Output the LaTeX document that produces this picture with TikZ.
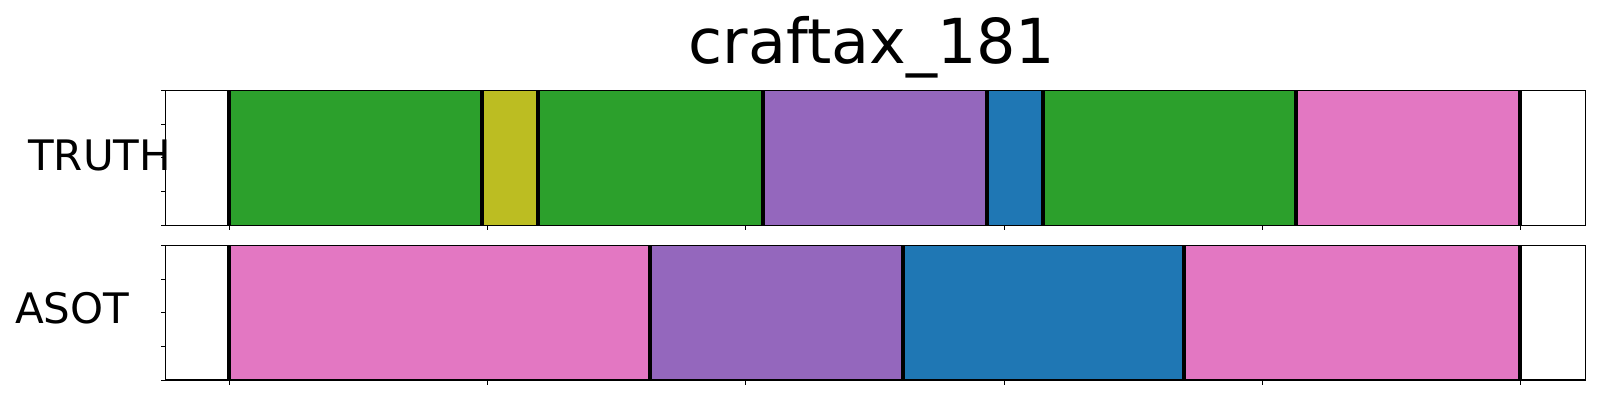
\documentclass[tikz,border=0pt]{standalone}
\usepackage{fontspec}
\setmainfont{DejaVu Sans}
\definecolor{tgreen}{HTML}{2CA02C}
\definecolor{tolive}{HTML}{BCBD22}
\definecolor{tpurple}{HTML}{9467BD}
\definecolor{tblue}{HTML}{1F77B4}
\definecolor{tpink}{HTML}{E377C2}
\tikzset{
  seg/.style={draw=none},
  bound/.style={line width=3.6pt, black},
  spine/.style={line width=1.1pt, black},
  tickmark/.style={line width=0.9pt, black},
  lbl/.style={inner sep=0pt, anchor=base west, font=\fontsize{42}{50}\selectfont},
}
\begin{document}
\begin{tikzpicture}[x=1pt,y=-1pt]
\useasboundingbox[fill=white] (0,0) rectangle (1600,400);
% ---------- top panel (TRUTH) ----------
\def\ta{90.3}\def\tb{225.3}
\fill[tgreen]  (229,\ta) rectangle (482,\tb);
\fill[tolive]  (482,\ta) rectangle (538,\tb);
\fill[tgreen]  (538,\ta) rectangle (763,\tb);
\fill[tpurple] (763,\ta) rectangle (987,\tb);
\fill[tblue]   (987,\ta) rectangle (1043,\tb);
\fill[tgreen]  (1043,\ta) rectangle (1296,\tb);
\fill[tpink]   (1296,\ta) rectangle (1520,\tb);
\foreach \x in {229,482,538,763,987,1043,1296,1520}
  \draw[bound] (\x,\ta) -- (\x,\tb);
\draw[spine] (165.7,\ta) rectangle (1585.7,\tb);
\foreach \x in {229.3,487.6,745.9,1004.1,1262.4,1520.7}
  \draw[tickmark] (\x,\tb) -- (\x,\tb+5);
\foreach \y in {90.3,124.05,157.8,191.55,225.3}
  \draw[tickmark] (165.7,\y) -- (160.7,\y);
% ---------- bottom panel (ASOT) ----------
\def\ba{245.3}\def\bb{380}
\fill[tpink]   (229,\ba) rectangle (650,\bb);
\fill[tpurple] (650,\ba) rectangle (903,\bb);
\fill[tblue]   (903,\ba) rectangle (1184,\bb);
\fill[tpink]   (1184,\ba) rectangle (1520,\bb);
\foreach \x in {229,650,903,1184,1520}
  \draw[bound] (\x,\ba) -- (\x,\bb);
\draw[spine] (165.7,\ba) rectangle (1585.7,\bb);
\foreach \x in {229.3,487.6,745.9,1004.1,1262.4,1520.7}
  \draw[tickmark] (\x,\bb) -- (\x,\bb+5);
\foreach \y in {245.3,278.98,312.65,346.33,380}
  \draw[tickmark] (165.7,\y) -- (160.7,\y);
% ---------- texts ----------
\node[inner sep=0pt, anchor=base, font=\fontsize{62}{70}\selectfont] (title) at (872,63) {craftax\_181};
\node[lbl] (truth) at (28,170) {TRUTH};
\node[lbl] (asot) at (15,323.3) {ASOT};
\end{tikzpicture}
\end{document}
